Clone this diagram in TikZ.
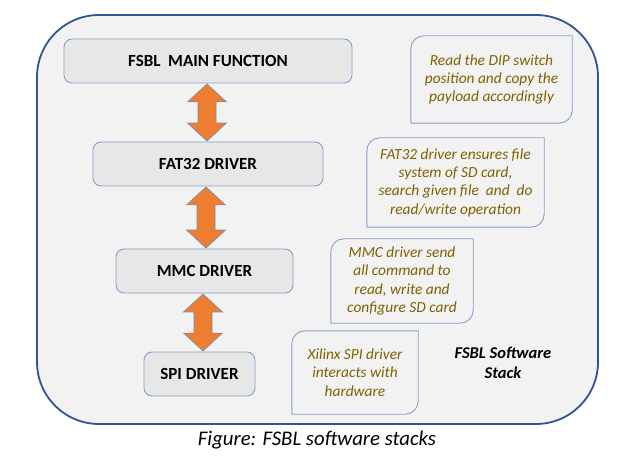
\documentclass[tikz,border=0pt]{standalone}
\usepackage{fontspec}
\setmainfont{Carlito}
\usetikzlibrary{calc}
\definecolor{frameblue}{RGB}{47,85,151}
\definecolor{framefill}{RGB}{242,242,242}
\definecolor{boxfill}{RGB}{231,231,231}
\definecolor{boxline}{RGB}{132,160,200}
\definecolor{noteline}{RGB}{132,160,200}
\definecolor{notetext}{RGB}{128,96,0}
\definecolor{arrowfill}{RGB}{237,125,49}
\definecolor{arrowline}{RGB}{120,140,175}
\tikzset{
  frame/.style={draw=frameblue, line width=1.8pt, fill=framefill, rounded corners=62pt,
    rectangle, inner sep=0pt},
  drvbox/.style={draw=boxline, line width=0.9pt, fill=boxfill, rounded corners=8pt,
    rectangle, inner sep=0pt, font=\fontsize{17}{19}\selectfont\bfseries},
  notebox/.style={rectangle, inner sep=0pt, align=center, text=notetext,
    font=\fontsize{15.4}{18.3}\selectfont\itshape},
  noteborder/.style={draw=noteline, line width=0.9pt},
  dblarrow/.style={draw=arrowline, line width=0.6pt, fill=arrowfill, line join=miter},
}
% Round-diagonal outline: top-left and bottom-right corners rounded
\newcommand\diagoutline[1]{%
  \draw[noteborder] (#1.south west) -- ([yshift=-13pt]#1.north west)
    arc(180:90:13pt) -- (#1.north east) -- ([yshift=13pt]#1.south east)
    arc(0:-90:13pt) -- cycle;}
% Vertical double-headed block arrow between two stacked nodes
\newcommand\stackarrow[3]{%
  \draw[dblarrow] let \p1=(#2.south), \p2=(#3.north) in
    (#1pt,\y1-0.5pt) -- (#1pt+19.5pt,\y1-18.5pt) -- (#1pt+9pt,\y1-18.5pt)
    -- (#1pt+9pt,\y2+18.5pt) -- (#1pt+19.5pt,\y2+18.5pt) -- (#1pt,\y2+0.5pt)
    -- (#1pt-19.5pt,\y2+18.5pt) -- (#1pt-9pt,\y2+18.5pt) -- (#1pt-9pt,\y1-18.5pt)
    -- (#1pt-19.5pt,\y1-18.5pt) -- cycle;}
\begin{document}
\begin{tikzpicture}[x=1pt,y=-1pt]
\useasboundingbox (0,0) rectangle (634,462);

\node[frame, minimum width=561pt, minimum height=409pt] (stack) at (317.5,219.5) {};

% driver layers
\node[drvbox, minimum width=288pt, minimum height=44pt] (main) at (208,61) {FSBL\ \ MAIN FUNCTION};
\node[drvbox, minimum width=230pt, minimum height=44pt] (fat) at (208,164) {FAT32 DRIVER};
\node[drvbox, minimum width=177pt, minimum height=44pt] (mmc) at (204.5,271) {MMC DRIVER};
\node[drvbox, minimum width=111pt, minimum height=44pt] (spi) at (199.5,374) {SPI DRIVER};

\stackarrow{207}{main}{fat}
\stackarrow{206}{fat}{mmc}
\stackarrow{203}{mmc}{spi}

% descriptions
\node[notebox, minimum width=161pt, minimum height=87pt] (n1) at (491.5,79.5)
  {Read the DIP switch\\position and copy the\\payload accordingly};
\node[notebox, minimum width=177pt, minimum height=89pt] (n2) at (455.5,182.5)
  {FAT32 driver ensures file\\system of SD card,\\search given file\ \ and\ \ do\\read/write operation};
\node[notebox, minimum width=142pt, minimum height=84pt] (n3) at (402,281)
  {MMC driver send\\all command to\\read, write and\\configure SD card};
\node[notebox, minimum width=126pt, minimum height=83pt] (n4) at (355,372.5)
  {Xilinx SPI driver\\interacts with\\hardware};
\foreach \n in {n1,n2,n3,n4} {\diagoutline{\n}}

\node[align=center, font=\fontsize{16.5}{20}\selectfont\bfseries\itshape] (title) at (503,363)
  {FSBL Software\\Stack};

\node[font=\fontsize{20.8}{24}\selectfont\itshape] (caption) at (317,440)
  {Figure: FSBL software stacks};
\end{tikzpicture}
\end{document}
